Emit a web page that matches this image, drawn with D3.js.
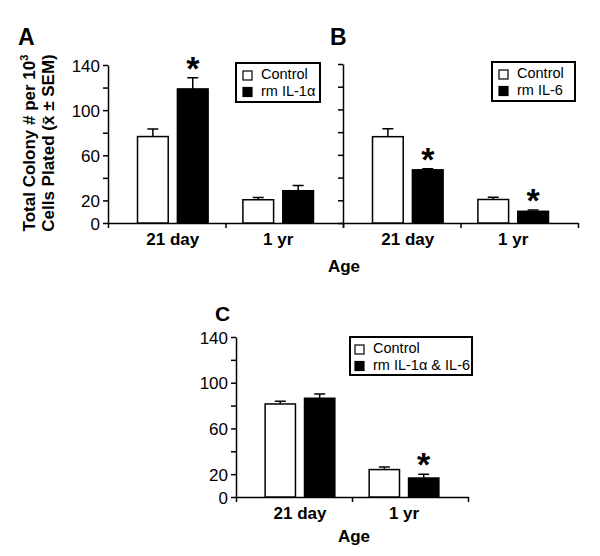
<!DOCTYPE html>
<html>
<head>
<meta charset="utf-8">
<script src="https://cdn.jsdelivr.net/npm/d3@7"></script>
<style>
  body { margin: 0; background: #fff; }
  svg { font-family: Arial, "Liberation Sans", sans-serif; }
</style>
</head>
<body>
<div id="chart"></div>
<script>
// Data
var ages = ['21 day', '1 yr'];
var seriesA = ['Control', 'rm IL-1\u03b1'];
var seriesB = ['Control', 'rm IL-6'];
var seriesC = ['Control', 'rm IL-1\u03b1 & IL-6'];

// [control, treated] per age group
var meansA = [[76.6, 118.8], [20.6, 28.6]];
var semA = [[6.8, 10.0], [2.0, 4.7]];
var starsA = [[false, true], [false, false]];

var meansB = [[76.0, 46.8], [20.7, 10.3]];
var semB = [[7.0, 0.9], [2.0, 1.2]];
var starsB = [[false, true], [false, true]];

var meansC = [[81.4, 86.4], [24.0, 16.6]];
var semC = [[2.4, 3.8], [2.3, 3.2]];
var starsC = [[false, false], [false, true]];

var yTicks = [0, 20, 40, 60, 80, 100, 120, 140];
var yTickLabels = [0, 20, 60, 100, 140];

var svgWidth = 600;
var svgHeight = 556;

var svg = d3.select('#chart')
    .append('svg')
    .attr('width', svgWidth)
    .attr('height', svgHeight);

function drawPanel(opt) {
    var g = svg.append('g');

    var y = d3.scaleLinear().domain([0, 140]).range([opt.yBot, opt.yTop]);

    var x = d3.scaleBand()
        .domain(ages)
        .range([opt.x0, opt.x1])
        .paddingInner(0.33)
        .paddingOuter(0.28);

    var xs = d3.scaleBand()
        .domain([0, 1])
        .range([0, x.bandwidth()])
        .paddingInner(0.23);

    // y axis
    var yAxis = d3.axisLeft(y)
        .tickValues(yTicks)
        .tickSize(5)
        .tickSizeOuter(0)
        .tickFormat(function (d) {
            return opt.labels && yTickLabels.indexOf(d) >= 0 ? d : '';
        });

    var yg = g.append('g')
        .attr('transform', 'translate(' + opt.x0 + ',0)')
        .call(yAxis);
    yg.selectAll('text').attr('font-size', 17).attr('fill', '#000').attr('x', -8).attr('dy', '0.36em');
    yg.selectAll('path, line').attr('stroke', '#000').attr('stroke-width', 1.5);

    // x axis line with ticks at the band edges
    var xEdge = d3.scaleLinear().domain([0, 2]).range([opt.x0, opt.x1]);
    var xg = g.append('g')
        .attr('transform', 'translate(0,' + opt.yBot + ')')
        .call(d3.axisBottom(xEdge).tickValues([0, 1, 2]).tickFormat('').tickSize(5).tickSizeOuter(0));
    xg.selectAll('path, line').attr('stroke', '#000').attr('stroke-width', 1.5);

    // group labels
    g.selectAll('.grp')
        .data(ages)
        .enter()
        .append('text')
        .attr('x', function (d) { return x(d) + x.bandwidth() / 2; })
        .attr('y', opt.yBot + 22)
        .attr('text-anchor', 'middle')
        .attr('font-size', 17)
        .attr('font-weight', 'bold')
        .text(function (d) { return d; });

    // flatten bars
    var bars = [];
    ages.forEach(function (age, i) {
        [0, 1].forEach(function (s) {
            bars.push({ age: age, s: s, v: opt.means[i][s], e: opt.sem[i][s], star: opt.stars[i][s] });
        });
    });

    var cx = function (d) { return x(d.age) + xs(d.s) + xs.bandwidth() / 2; };

    // error bars (upper only)
    g.selectAll('.err')
        .data(bars)
        .enter()
        .append('path')
        .attr('d', function (d) {
            var c = cx(d);
            return 'M' + c + ',' + y(d.v) + 'V' + y(d.v + d.e) + 'M' + (c - 5.5) + ',' + y(d.v + d.e) + 'H' + (c + 5.5);
        })
        .attr('stroke', '#000')
        .attr('stroke-width', 1.5)
        .attr('fill', 'none');

    g.selectAll('.bar')
        .data(bars)
        .enter()
        .append('rect')
        .attr('x', function (d) { return x(d.age) + xs(d.s); })
        .attr('y', function (d) { return y(d.v); })
        .attr('width', xs.bandwidth())
        .attr('height', function (d) { return opt.yBot - y(d.v); })
        .attr('fill', function (d) { return d.s === 0 ? '#fff' : '#000'; })
        .attr('stroke', '#000')
        .attr('stroke-width', 1.5);

    // significance stars
    g.selectAll('.star')
        .data(bars.filter(function (d) { return d.star; }))
        .enter()
        .append('text')
        .attr('x', cx)
        .attr('y', function (d) { return y(d.v + d.e) + 2; })
        .attr('text-anchor', 'middle')
        .attr('font-size', 34)
        .attr('font-weight', 'bold')
        .text('*');

    // legend
    var lg = g.append('g').attr('transform', 'translate(' + opt.legend.x + ',' + opt.legend.y + ')');
    lg.append('rect')
        .attr('width', opt.legend.w)
        .attr('height', opt.legend.h)
        .attr('fill', '#fff')
        .attr('stroke', '#000')
        .attr('stroke-width', 2);
    opt.series.forEach(function (name, i) {
        lg.append('rect')
            .attr('x', opt.legend.sx)
            .attr('y', 8 + i * 16.5)
            .attr('width', 9)
            .attr('height', 9)
            .attr('fill', i === 0 ? '#fff' : '#000')
            .attr('stroke', '#000')
            .attr('stroke-width', 1.2);
        lg.append('text')
            .attr('x', opt.legend.tx)
            .attr('y', 16 + i * 16.5)
            .attr('font-size', 14.5)
            .text(name);
    });

    // panel letter
    g.append('text')
        .attr('x', opt.letter[0])
        .attr('y', opt.letter[1])
        .attr('font-size', opt.letter[2])
        .attr('font-weight', 'bold')
        .text(opt.letter[3]);
}

drawPanel({
    x0: 108, x1: 343, yTop: 65, yBot: 223, labels: true,
    means: meansA, sem: semA, stars: starsA, series: seriesA,
    legend: { x: 236, y: 63, w: 84, h: 39, sx: 7, tx: 25 },
    letter: [18, 45, 23, 'A']
});

drawPanel({
    x0: 343, x1: 578, yTop: 64, yBot: 223, labels: false,
    means: meansB, sem: semB, stars: starsB, series: seriesB,
    legend: { x: 492, y: 62, w: 83, h: 39, sx: 7, tx: 25 },
    letter: [330, 45, 23, 'B']
});

drawPanel({
    x0: 236, x1: 468, yTop: 337, yBot: 497, labels: true,
    means: meansC, sem: semC, stars: starsC, series: seriesC,
    legend: { x: 350, y: 337, w: 122, h: 38, sx: 5, tx: 23 },
    letter: [215, 321, 21, 'C']
});

// shared y axis title
var yTitle = svg.append('text')
    .attr('transform', 'translate(35,143) rotate(-90)')
    .attr('text-anchor', 'middle')
    .attr('font-size', 17)
    .attr('font-weight', 'bold');
yTitle.append('tspan').attr('x', 0).attr('dy', 0).text('Total Colony # per 10');
yTitle.append('tspan').attr('dy', -7).attr('font-size', 11).text('3');
yTitle.append('tspan').attr('x', 0).attr('dy', 26).text('Cells Plated (x\u0304 \u00b1 SEM)');

// x axis titles
svg.append('text')
    .attr('x', 344)
    .attr('y', 272)
    .attr('text-anchor', 'middle')
    .attr('font-size', 17)
    .attr('font-weight', 'bold')
    .text('Age');

svg.append('text')
    .attr('x', 354)
    .attr('y', 542)
    .attr('text-anchor', 'middle')
    .attr('font-size', 17)
    .attr('font-weight', 'bold')
    .text('Age');
</script>
</body>
</html>
